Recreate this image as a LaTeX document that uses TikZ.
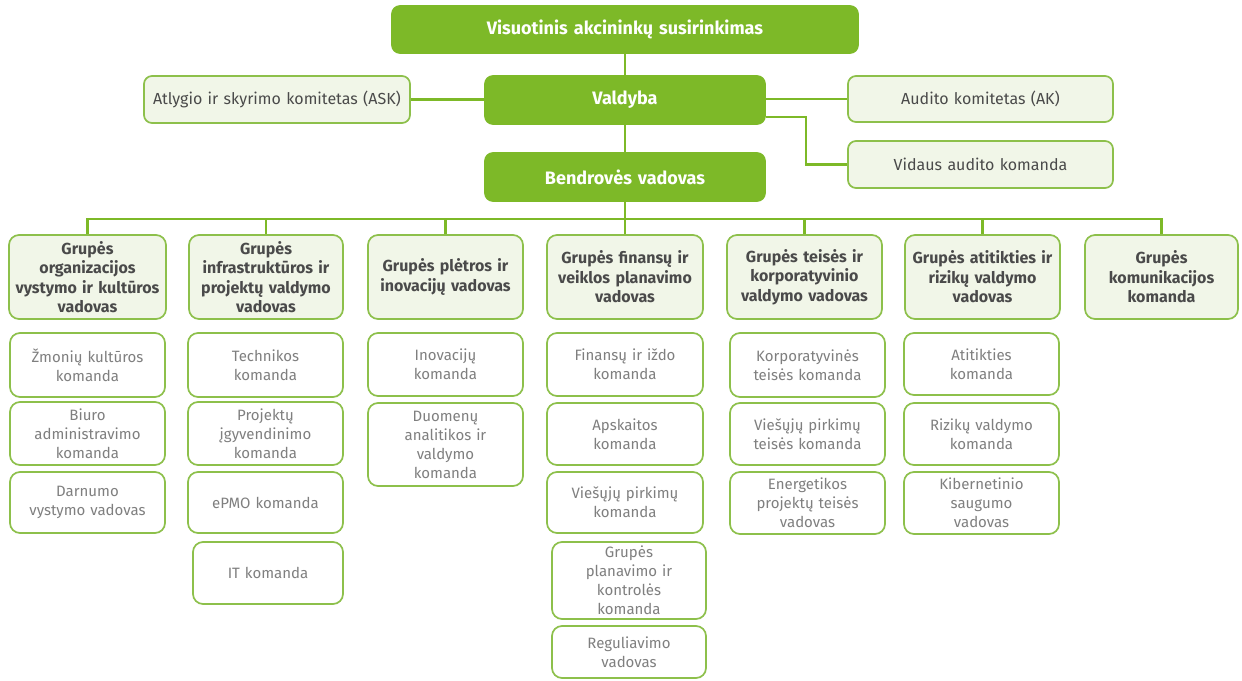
\documentclass[tikz,border=0pt]{standalone}
\usepackage{fontspec}
\setmainfont{Fira Sans}
\definecolor{gmain}{HTML}{7DB928}
\definecolor{gbord}{HTML}{8DC04B}
\definecolor{gfill}{HTML}{F1F6E8}
\definecolor{tdark}{HTML}{4A4A4A}
\definecolor{tgray}{HTML}{7F7F7F}
\tikzset{
  x=1pt, y=-1pt,
  base/.style={rounded corners=8pt, align=center, inner sep=0pt, line width=1.7pt},
  mainbox/.style={base, fill=gmain, draw=gmain, text=white, font=\fontsize{18}{22}\selectfont\bfseries},
  commbox/.style={base, fill=gfill, draw=gbord, text=tdark, font=\fontsize{16}{19}\selectfont},
  headbox/.style={base, fill=gfill, draw=gbord, text=tdark, rounded corners=10pt, font=\fontsize{16}{19.5}\selectfont\bfseries},
  subbox/.style={base, fill=white, draw=gbord, text=tgray, rounded corners=10pt, font=\fontsize{15}{19}\selectfont},
  conn/.style={draw=gmain, line width=2.4pt},
}
\newcommand\orgbox[7]{%
  \pgfmathsetmacro\obw{#4-#2}%
  \pgfmathsetmacro\obh{#5-#3}%
  \pgfmathsetmacro\obtw{#4-#2-6}%
  \pgfmathsetmacro\obcx{(#2+#4)/2}%
  \pgfmathsetmacro\obcy{(#3+#5)/2}%
  \node[#6, minimum width=\obw pt, minimum height=\obh pt, text width=\obtw pt] (#1) at (\obcx,\obcy) {#7};}
\begin{document}
\begin{tikzpicture}
\fill[white] (0,0) rectangle (1242,680);
\useasboundingbox (0,0) rectangle (1242,680);
% top levels
\orgbox{top}{392}{6}{858}{53}{mainbox}{Visuotinis akcininkų susirinkimas}
\orgbox{vald}{485}{76}{765}{124}{mainbox}{Valdyba}
\orgbox{bend}{485}{153}{765}{201}{mainbox}{Bendrovės vadovas}
\orgbox{ask}{144}{76}{410}{123}{commbox}{Atlygio ir skyrimo komitetas (ASK)}
\orgbox{ak}{848}{76}{1113}{122}{commbox}{Audito komitetas (AK)}
\orgbox{vid}{848}{141}{1113}{188}{commbox}{Vidaus audito komanda}
% heads
\orgbox{h1}{9}{235}{166}{319}{headbox}{Grupės\\organizacijos\\vystymo ir kultūros\\vadovas}
\orgbox{h2}{189}{235}{343}{319}{headbox}{Grupės\\infrastruktūros ir\\projektų valdymo\\vadovas}
\orgbox{h3}{368}{235}{523}{319}{headbox}{Grupės plėtros ir\\inovacijų vadovas}
\orgbox{h4}{547}{235}{703}{319}{headbox}{Grupės finansų ir\\veiklos planavimo\\vadovas}
\orgbox{h5}{727}{235}{882}{319}{headbox}{Grupės teisės ir\\korporatyvinio\\valdymo vadovas}
\orgbox{h6}{905}{235}{1060}{319}{headbox}{Grupės atitikties ir\\rizikų valdymo\\vadovas}
\orgbox{h7}{1085}{235}{1238}{319}{headbox}{Grupės\\komunikacijos\\komanda}
% column 1
\orgbox{s11}{10}{333}{165}{397}{subbox}{Žmonių kultūros\\komanda}
\orgbox{s12}{10}{402}{165}{465}{subbox}{Biuro\\administravimo\\komanda}
\orgbox{s13}{10}{472}{165}{533}{subbox}{Darnumo\\vystymo vadovas}
% column 2
\orgbox{s21}{188}{333}{343}{397}{subbox}{Technikos\\komanda}
\orgbox{s22}{188}{402}{343}{465}{subbox}{Projektų\\įgyvendinimo\\komanda}
\orgbox{s23}{188}{472}{343}{533}{subbox}{ePMO komanda}
\orgbox{s24}{193}{542}{343}{604}{subbox}{IT komanda}
% column 3
\orgbox{s31}{368}{333}{523}{396}{subbox}{Inovacijų\\komanda}
\orgbox{s32}{368}{403}{523}{486}{subbox}{Duomenų\\analitikos ir\\valdymo\\komanda}
% column 4
\orgbox{s41}{547}{333}{703}{396}{subbox}{Finansų ir iždo\\komanda}
\orgbox{s42}{547}{403}{703}{465}{subbox}{Apskaitos\\komanda}
\orgbox{s43}{547}{472}{703}{533}{subbox}{Viešųjų pirkimų\\komanda}
\orgbox{s44}{552}{542}{706}{619}{subbox}{Grupės\\planavimo ir\\kontrolės\\komanda}
\orgbox{s45}{552}{626}{706}{678}{subbox}{Reguliavimo\\vadovas}
% column 5
\orgbox{s51}{730}{333}{885}{397}{subbox}{Korporatyvinės\\teisės komanda}
\orgbox{s52}{730}{403}{885}{465}{subbox}{Viešųjų pirkimų\\teisės komanda}
\orgbox{s53}{730}{472}{885}{534}{subbox}{Energetikos\\projektų teisės\\vadovas}
% column 6
\orgbox{s61}{904}{333}{1059}{395}{subbox}{Atitikties\\komanda}
\orgbox{s62}{904}{403}{1059}{465}{subbox}{Rizikų valdymo\\komanda}
\orgbox{s63}{904}{472}{1059}{534}{subbox}{Kibernetinio\\saugumo\\vadovas}
% connectors
\draw[conn] (top.south) -- (vald.north);
\draw[conn] (vald.south) -- (bend.north);
\draw[conn] (ask.east) -- (ask.east -| vald.west);
\draw[conn] (vald.east |- ak.west) -- (ak.west);
\draw[conn] ([yshift=-17pt]vald.east) -- ++(40,0) |- (vid.west);
\coordinate (bus) at (625,219);
\draw[conn] (bend.south) -- (bus);
\foreach \h in {h1,h2,h3,h4,h5,h6,h7} { \draw[conn] (\h.north) |- (bus); }
\end{tikzpicture}
\end{document}
